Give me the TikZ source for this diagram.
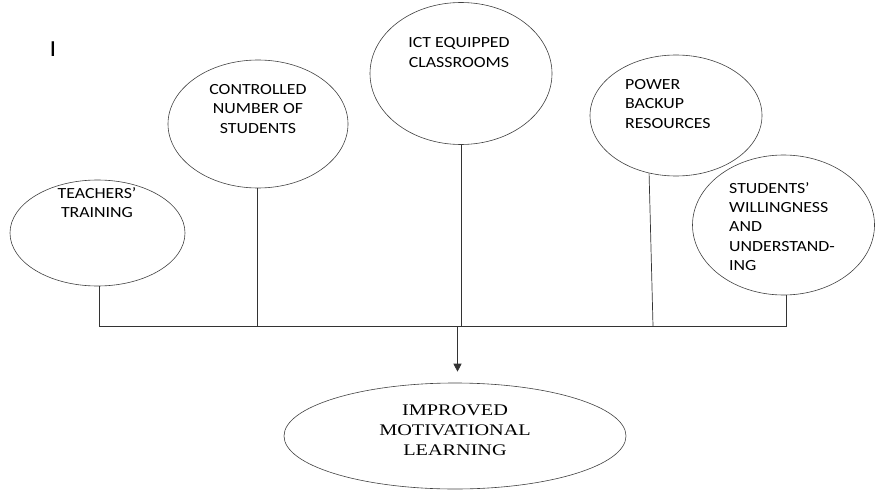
\documentclass[tikz,border=0pt]{standalone}
\usepackage{fontspec}
\newfontfamily\labfont[FakeStretch=1.15]{Carlito}
\newfontfamily\resfont[FakeStretch=1.25]{Liberation Serif}
\usetikzlibrary{shapes.geometric,arrows.meta}
\tikzset{
  bubble/.style={ellipse, draw=black!75, line width=0.6pt, inner sep=0pt},
  lab/.style={font=\labfont\fontsize{15.5}{19.3}\selectfont, inner sep=0pt, text=black},
  reslab/.style={font=\resfont\fontsize{16.2}{20}\selectfont, inner sep=0pt, text=black},
  conn/.style={draw=black!80, line width=0.7pt}
}
\begin{document}
\begin{tikzpicture}[x=1pt,y=-1pt]
\useasboundingbox (0,0) rectangle (875,503);
% bubbles
\node[bubble, minimum width=175pt, minimum height=106pt] (teach) at (97.5,233) {};
\node[bubble, minimum width=180pt, minimum height=128pt] (ctrl) at (258,124) {};
\node[bubble, minimum width=182pt, minimum height=142pt] (ict) at (461,73.5) {};
\node[bubble, minimum width=172pt, minimum height=121pt] (power) at (676,115.5) {};
\node[bubble, minimum width=182pt, minimum height=140pt] (stud) at (783.5,225) {};
\node[bubble, minimum width=342pt, minimum height=106pt] (impr) at (455,436) {};
% texts
\node[lab, font=\labfont\fontsize{23}{23}\selectfont] (mark) at (53,49.5) {I};
\node[lab, align=center] (teachT) at (97,202.5) {TEACHERS’\\TRAINING};
\node[lab, align=center] (ctrlT) at (258,109) {CONTROLLED\\NUMBER OF\\STUDENTS};
\node[lab, align=center] (ictT) at (459,52.5) {ICT EQUIPPED\\CLASSROOMS};
\node[lab, align=left, anchor=west] (powerT) at (625,104) {POWER\\BACKUP\\RESOURCES};
\node[lab, align=left, anchor=west] (studT) at (729,226.5) {STUDENTS’\\WILLINGNESS\\AND\\UNDERSTAND-\\ING};
\node[reslab, align=center] (imprT) at (455,430) {IMPROVED\\MOTIVATIONAL\\LEARNING};
% connectors
\coordinate (b1) at (99.5,326);
\coordinate (b5) at (786,326);
\coordinate (b4) at (653,326);
\coordinate (a0) at (457.5,326);
\draw[conn] ([xshift=2pt]teach.south) -- (b1) -- (b5) -- ([xshift=2.5pt]stud.south);
\draw[conn] ([xshift=-1pt]ctrl.south) -- ([xshift=-1pt]ctrl.south |- b1);
\draw[conn] (ict.south) -- (ict.south |- b1);
\draw[conn] (power.-115) -- (b4);
\draw[conn, -{Triangle[width=8pt,length=8pt]}, shorten >=11pt] (a0) -- (a0 |- impr.north);
\end{tikzpicture}
\end{document}
